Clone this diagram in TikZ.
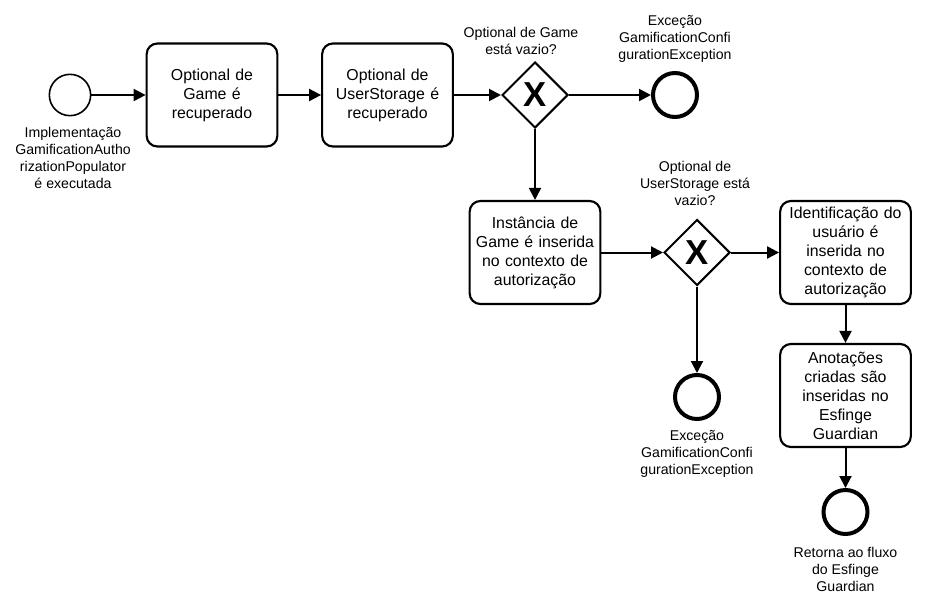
\documentclass[tikz,border=0pt]{standalone}
\usepackage{fontspec}
\setmainfont{Liberation Sans}
\usetikzlibrary{arrows.meta,shapes.geometric}
\begin{document}
\begin{tikzpicture}[x=0.75pt,y=-0.75pt,
  task/.style={draw,line width=1.6pt,rounded corners=8pt,minimum width=97.5pt,
    minimum height=77.25pt,align=center,inner sep=2pt,text width=94pt,
    font=\fontsize{11.9}{14.25}\selectfont},
  gate/.style={draw,line width=1.5pt,diamond,aspect=1,inner sep=0pt,minimum size=49.5pt},
  gx/.style={font=\fontsize{26}{26}\selectfont\bfseries,inner sep=0pt},
  startev/.style={draw,circle,line width=1.2pt,minimum size=31pt,inner sep=0pt},
  endev/.style={draw,circle,line width=3pt,minimum size=33pt,inner sep=0pt},
  lbl/.style={align=center,inner sep=0pt,font=\fontsize{10.6}{12.75}\selectfont},
  flow/.style={line width=1.5pt,-{Triangle[length=9pt,width=9pt]}}]
\useasboundingbox (0,0) rectangle (943,611);

% start of the process
\node[startev] (s) at (70,95) {};
\node[lbl,anchor=north] (sl) at (73,127) {Implementação\\GamificationAutho\\rizationPopulator\\é executada};

% upper row of tasks
\node[task] (t1) at (212,95) {Optional de\\Game é\\recuperado};
\node[task] (t2) at (387.5,95) {Optional de\\UserStorage é\\recuperado};

% first gateway and its exception end
\node[gate] (g1) at (535,95) {};
\node[gx] (g1x) at (535,95) {X};
\node[lbl,anchor=south] (g1l) at (521,55) {Optional de Game\\está vazio?};
\node[endev] (e1) at (675,95) {};
\node[lbl,anchor=south] (e1l) at (675,63) {Exceção\\GamificationConfi\\gurationException};

% middle row
\node[task] (t3) at (535,252.5) {Instância de\\Game é inserida\\no contexto de\\autorização};
\node[gate] (g2) at (697,252.5) {};
\node[gx] (g2x) at (697,252.5) {X};
\node[lbl,anchor=south] (g2l) at (695,206) {Optional de\\UserStorage está\\vazio?};
\node[task] (t4) at (845.5,252.5) {Identificação do\\usuário é\\inserida no\\contexto de\\autorização};

% second exception end
\node[endev] (e2) at (697,397) {};
\node[lbl,anchor=north] (e2l) at (697,430) {Exceção\\GamificationConfi\\gurationException};

% closing tasks and end
\node[task] (t5) at (845.5,395.5) {Anotações\\criadas são\\inseridas no\\Esfinge\\Guardian};
\node[endev] (e3) at (845.5,512) {};
\node[lbl,anchor=north] (e3l) at (845.5,547) {Retorna ao fluxo\\do Esfinge\\Guardian};

% sequence flows
\draw[flow] (s) -- (t1);
\draw[flow] (t1) -- (t2);
\draw[flow] (t2) -- (g1);
\draw[flow] (g1) -- (e1);
\draw[flow] (g1) -- (t3);
\draw[flow] (t3) -- (g2);
\draw[flow] (g2) -- (t4);
\draw[flow] (g2) -- (e2);
\draw[flow] (t4) -- (t5);
\draw[flow] (t5) -- (e3);
\end{tikzpicture}
\end{document}
